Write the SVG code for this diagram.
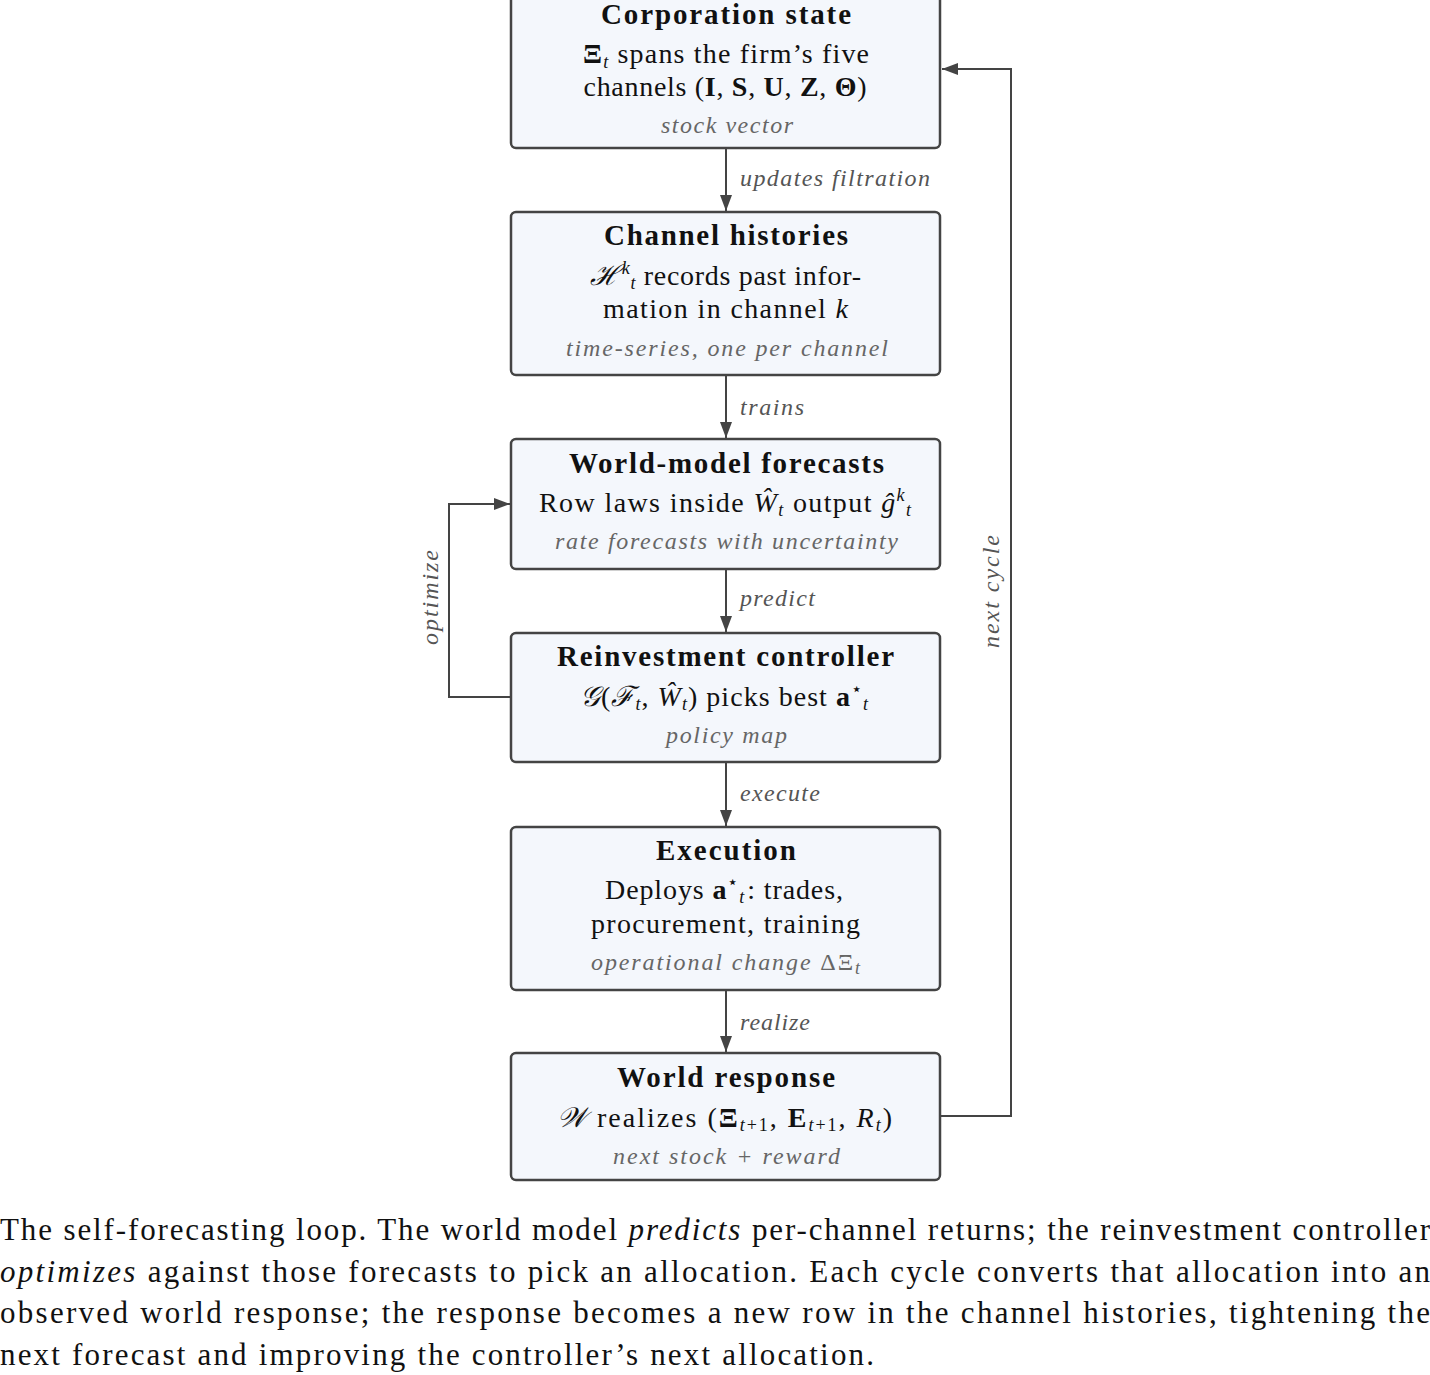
<svg xmlns="http://www.w3.org/2000/svg" width="1430" height="1375" viewBox="0 0 1430 1375">
<style>
.box{fill:#f4f7fc;stroke:#444;stroke-width:2.5}
.t{font-family:'Liberation Serif','Times New Roman',serif;text-anchor:middle;fill:#111}
.title{font-weight:bold;font-size:29px}
.body{font-size:28px}
.note{font-style:italic;font-size:24px;fill:#666}
.el{font-family:'Liberation Serif','Times New Roman',serif;font-style:italic;font-size:24px;fill:#555}
.edge{fill:none;stroke:#444;stroke-width:2}
.cap{font-family:'Liberation Serif','Times New Roman',serif;font-size:31px;fill:#111}
.b{font-weight:bold}
.i{font-style:italic}
.s{font-size:18px}
</style>
<defs>
<marker id="arr" viewBox="0 0 16 12" refX="16" refY="6" markerWidth="16" markerHeight="12" markerUnits="userSpaceOnUse" orient="auto">
<path d="M0,0 L16,6 L0,12 z" fill="#444"/>
</marker>
</defs>

<g id="connectors">
<path class="edge" d="M726,148 V211" marker-end="url(#arr)"/>
<path class="edge" d="M726,375 V438" marker-end="url(#arr)"/>
<path class="edge" d="M726,569 V632" marker-end="url(#arr)"/>
<path class="edge" d="M726,762 V826" marker-end="url(#arr)"/>
<path class="edge" d="M726,990 V1052" marker-end="url(#arr)"/>
<path class="edge" d="M941,1116 H1011 V69 H942" marker-end="url(#arr)"/>
<path class="edge" d="M511,697 H449 V504 H510" marker-end="url(#arr)"/>
<text class="el" x="740" y="186" textLength="190" lengthAdjust="spacing">updates filtration</text>
<text class="el" x="740" y="415" textLength="64" lengthAdjust="spacing">trains</text>
<text class="el" x="740" y="606" textLength="75" lengthAdjust="spacing">predict</text>
<text class="el" x="740" y="801" textLength="80" lengthAdjust="spacing">execute</text>
<text class="el" x="740" y="1030" textLength="70" lengthAdjust="spacing">realize</text>
<text class="el" transform="translate(999,591.5) rotate(-90)" text-anchor="middle" textLength="113" lengthAdjust="spacing">next cycle</text>
<text class="el" transform="translate(438,597.5) rotate(-90)" text-anchor="middle" textLength="95" lengthAdjust="spacing">optimize</text>
</g>

<g id="corporation-state">
<rect class="box" x="511" y="-8" width="429" height="156" rx="5"/>
<text class="t title" x="726" y="24" textLength="250" lengthAdjust="spacing">Corporation state</text>
<text class="t body" x="726" y="63" textLength="286" lengthAdjust="spacing"><tspan class="b">Ξ</tspan><tspan class="i s" dy="5">t</tspan><tspan dy="-5"> spans the firm’s five</tspan></text>
<text class="t body" x="725" y="96" textLength="283" lengthAdjust="spacing">channels (<tspan class="b">I</tspan>, <tspan class="b">S</tspan>, <tspan class="b">U</tspan>, <tspan class="b">Z</tspan>, <tspan class="b">Θ</tspan>)</text>
<text class="t note" x="727" y="133" textLength="132" lengthAdjust="spacing">stock vector</text>
</g>

<g id="channel-histories">
<rect class="box" x="511" y="212" width="429" height="163" rx="5"/>
<text class="t title" x="726" y="245" textLength="244" lengthAdjust="spacing">Channel histories</text>
<text class="t body" x="725.5" y="285" textLength="271" lengthAdjust="spacing"><tspan class="i">ℋ</tspan><tspan class="i s" dx="1" dy="-11">k</tspan><tspan class="i s" dy="15">t</tspan><tspan dy="-4"> records past infor-</tspan></text>
<text class="t body" x="725.5" y="318" textLength="245" lengthAdjust="spacing">mation in channel <tspan class="i">k</tspan></text>
<text class="t note" x="727" y="356" textLength="322" lengthAdjust="spacing">time-series, one per channel</text>
</g>

<g id="world-model-forecasts">
<rect class="box" x="511" y="439" width="429" height="130" rx="5"/>
<text class="t title" x="726.5" y="473" textLength="315" lengthAdjust="spacing">World-model forecasts</text>
<text class="t body" x="725" y="512" textLength="372" lengthAdjust="spacing">Row laws inside <tspan class="i">Ŵ</tspan><tspan class="i s" dy="4">t</tspan><tspan dy="-4"> output </tspan><tspan class="i">ĝ</tspan><tspan class="i s" dy="-11">k</tspan><tspan class="i s" dy="15">t</tspan><tspan dy="-4"></tspan></text>
<text class="t note" x="726.5" y="549" textLength="343" lengthAdjust="spacing">rate forecasts with uncertainty</text>
</g>

<g id="reinvestment-controller">
<rect class="box" x="511" y="633" width="429" height="129" rx="5"/>
<text class="t title" x="725.5" y="666" textLength="337" lengthAdjust="spacing">Reinvestment controller</text>
<text class="t body" x="724" y="706" textLength="288" lengthAdjust="spacing"><tspan class="i">𝒢</tspan>(<tspan class="i">ℱ</tspan><tspan class="i s" dy="4">t</tspan><tspan dy="-4">, </tspan><tspan class="i">Ŵ</tspan><tspan class="i s" dy="4">t</tspan><tspan dy="-4">) picks best </tspan><tspan class="b">a</tspan><tspan class="s" dy="-11">⋆</tspan><tspan class="i s" dy="15">t</tspan><tspan dy="-4"></tspan></text>
<text class="t note" x="726.5" y="743" textLength="121" lengthAdjust="spacing">policy map</text>
</g>

<g id="execution">
<rect class="box" x="511" y="827" width="429" height="163" rx="5"/>
<text class="t title" x="726" y="860" textLength="140" lengthAdjust="spacing">Execution</text>
<text class="t body" x="724" y="899" textLength="238" lengthAdjust="spacing">Deploys <tspan class="b">a</tspan><tspan class="s" dy="-11">⋆</tspan><tspan class="i s" dy="15">t</tspan><tspan dy="-4" dx="2">:  trades,</tspan></text>
<text class="t body" x="725.5" y="933" textLength="269" lengthAdjust="spacing">procurement, training</text>
<text class="t note" x="725.5" y="970" textLength="269" lengthAdjust="spacing">operational change <tspan font-style="normal">ΔΞ</tspan><tspan class="s" dy="4">t</tspan></text>
</g>

<g id="world-response">
<rect class="box" x="511" y="1053" width="429" height="127" rx="5"/>
<text class="t title" x="726" y="1087" textLength="218" lengthAdjust="spacing">World response</text>
<text class="t body" x="724.5" y="1127" textLength="335" lengthAdjust="spacing"><tspan class="i">𝒲</tspan> realizes (<tspan class="b">Ξ</tspan><tspan class="i s" dy="4">t</tspan><tspan class="s">+1</tspan><tspan dy="-4">, </tspan><tspan class="b">E</tspan><tspan class="i s" dy="4">t</tspan><tspan class="s">+1</tspan><tspan dy="-4">, </tspan><tspan class="i">R</tspan><tspan class="i s" dy="4">t</tspan><tspan dy="-4">)</tspan></text>
<text class="t note" x="726.5" y="1164" textLength="227" lengthAdjust="spacing">next stock + reward</text>
</g>

<g id="caption">
<text class="cap" x="0" y="1240" textLength="1430" lengthAdjust="spacing">The self-forecasting loop.  The world model <tspan class="i">predicts</tspan> per-channel returns; the reinvestment controller</text>
<text class="cap" x="0" y="1282" textLength="1430" lengthAdjust="spacing"><tspan class="i">optimizes</tspan> against those forecasts to pick an allocation. Each cycle converts that allocation into an</text>
<text class="cap" x="0" y="1323" textLength="1430" lengthAdjust="spacing">observed world response; the response becomes a new row in the channel histories, tightening the</text>
<text class="cap" x="0" y="1365" textLength="874" lengthAdjust="spacing">next forecast and improving the controller’s next allocation.</text>
</g>
</svg>
